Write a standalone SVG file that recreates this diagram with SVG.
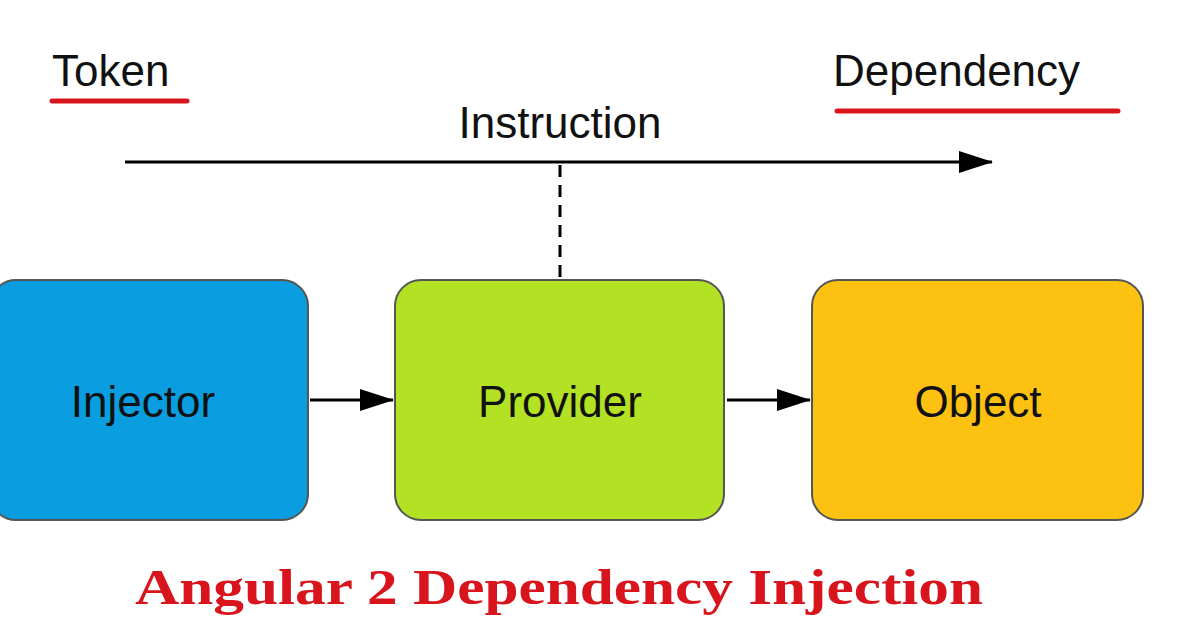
<svg xmlns="http://www.w3.org/2000/svg" width="1200" height="628" viewBox="0 0 1200 628">
<defs>
<style>
.lbl{font-family:"Liberation Sans",Arial,sans-serif;font-size:44px;fill:#111}
.box{stroke:#555;stroke-width:2}
.ln{stroke:#000;stroke-width:3;fill:none}
.ul{stroke:#d8141c;stroke-width:5;stroke-linecap:round}
</style>
<marker id="ah" markerWidth="12" markerHeight="10" refX="11" refY="5" orient="auto" markerUnits="userSpaceOnUse" viewBox="0 0 12 10"><path d="M0,0 L12,5 L0,10 Z" fill="#000"/></marker>
<marker id="ahb" markerWidth="34" markerHeight="22" refX="33" refY="11" orient="auto" markerUnits="userSpaceOnUse" viewBox="0 0 34 22"><path d="M0,0 L34,11 L0,22 Z" fill="#000"/></marker>
</defs>
<rect width="1200" height="628" fill="#fff"/>
<text class="lbl" x="52" y="86">Token</text>
<line class="ul" x1="52" y1="101" x2="187" y2="101"/>
<text class="lbl" x="833" y="86">Dependency</text>
<line class="ul" x1="837" y1="111" x2="1118" y2="111"/>
<text class="lbl" x="560" y="138" text-anchor="middle">Instruction</text>
<g id="connectors">
<line class="ln" x1="125" y1="162" x2="992" y2="162" marker-end="url(#ahb)"/>
<line class="ln" x1="560" y1="165" x2="560" y2="278" stroke-dasharray="12,8"/>
<line class="ln" x1="310" y1="400" x2="393" y2="400" marker-end="url(#ahb)"/>
<line class="ln" x1="727" y1="400" x2="810" y2="400" marker-end="url(#ahb)"/>
</g>
<g id="injector"><rect class="box" x="-10" y="280" width="318" height="240" rx="26" fill="#0a9de0"/><text class="lbl" x="143" y="417" text-anchor="middle">Injector</text></g>
<g id="provider"><rect class="box" x="395" y="280" width="329" height="240" rx="26" fill="#b3e123"/><text class="lbl" x="560" y="417" text-anchor="middle">Provider</text></g>
<g id="object"><rect class="box" x="812" y="280" width="331" height="240" rx="26" fill="#fdc111"/><text class="lbl" x="978" y="417" text-anchor="middle">Object</text></g>
<text x="135" y="604" font-family="'Liberation Serif','Times New Roman',serif" font-weight="bold" font-size="50" fill="#d8141c" textLength="848" lengthAdjust="spacingAndGlyphs">Angular 2 Dependency Injection</text>
</svg>
